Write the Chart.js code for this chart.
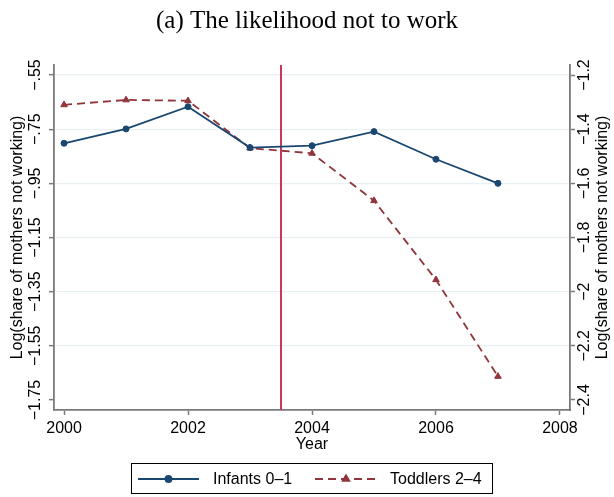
<!DOCTYPE html>
<html>
<head>
<meta charset="utf-8">
<script src="https://cdn.jsdelivr.net/npm/chart.js@4.4.1/dist/chart.umd.min.js"></script>
<style>
  html, body { margin: 0; padding: 0; background: #ffffff; }
  #wrap { width: 614px; height: 497px; }
</style>
</head>
<body>
<div id="wrap"><canvas id="chart" width="614" height="497"></canvas></div>
<script>
// Survey years and log share of mothers not working, by age of youngest child
const years = [2000, 2001, 2002, 2003, 2004, 2005, 2006, 2007];
const infants = [-0.802, -0.749, -0.667, -0.818, -0.811, -0.759, -0.861, -0.950];
const toddlers = [-1.310, -1.292, -1.295, -1.470, -1.489, -1.664, -1.956, -2.313];

// Axis ticks
const xTicks = [2000, 2002, 2004, 2006, 2008];
const leftTicks = [-0.55, -0.75, -0.95, -1.15, -1.35, -1.55, -1.75];
const rightTicks = [-1.2, -1.4, -1.6, -1.8, -2, -2.2, -2.4];

// Reform marker and texts
const reformYear = 2003.5;
const seriesNames = ['Infants 0–1', 'Toddlers 2–4'];
const chartTitle = '(a) The likelihood not to work';
const yTitle = 'Log(share of mothers not working)';
const xTitle = 'Year';

const SANS = '"Liberation Sans", Arial, sans-serif';
const AXIS_GREY = '#7a7a7a';
const GRID = '#e9f0f2';
const BLUE = '#1a476f';
const RED = '#90353b';
const VLINE = '#c8375a';

// Stata-style tick text: -0.55 -> −.55
function fmt(v) {
  let s = String(Math.abs(+v.toFixed(2)));
  s = s.replace(/^0\./, '.');
  return (v < 0 ? '\u2212' : '') + s;
}

const decorations = {
  id: 'decorations',
  beforeDatasetsDraw(chart) {
    const { ctx, chartArea, scales } = chart;
    const x = scales.x.getPixelForValue(reformYear);
    ctx.save();
    ctx.strokeStyle = VLINE;
    ctx.lineWidth = 2;
    ctx.beginPath();
    ctx.moveTo(x, chartArea.top);
    ctx.lineTo(x, chartArea.bottom);
    ctx.stroke();
    ctx.restore();
  },
  afterDraw(chart) {
    const { ctx, scales } = chart;
    ctx.save();

    // Title
    ctx.fillStyle = '#000';
    ctx.font = '25px "Liberation Serif", "Times New Roman", serif';
    ctx.textAlign = 'center';
    ctx.textBaseline = 'alphabetic';
    ctx.fillText(chartTitle, 307, 28);

    // Rotated y tick labels and titles
    function vtext(text, x, y) {
      ctx.save();
      ctx.translate(x, y);
      ctx.rotate(-Math.PI / 2);
      ctx.textAlign = 'center';
      ctx.textBaseline = 'middle';
      ctx.fillText(text, 0, 0);
      ctx.restore();
    }
    ctx.font = '16px ' + SANS;
    ctx.fillStyle = '#000';
    leftTicks.forEach(v => vtext(fmt(v), 36, scales.y.getPixelForValue(v)));
    rightTicks.forEach(v => vtext(fmt(v), 584.5, scales.y2.getPixelForValue(v)));
    const midY = (chart.chartArea.top + chart.chartArea.bottom) / 2;
    vtext(yTitle, 18, midY);
    vtext(yTitle, 603, midY);

    // Legend box
    const bx = 131.5, by = 463.5, bw = 361, bh = 30;
    ctx.strokeStyle = '#000';
    ctx.lineWidth = 1;
    ctx.strokeRect(bx, by, bw, bh);
    const ly = 479;
    const items = [
      { x0: 138, x1: 199, tx: 213 },
      { x0: 315, x1: 377, tx: 390 }
    ];
    chart.data.datasets.forEach((ds, i) => {
      const it = items[i];
      ctx.save();
      ctx.strokeStyle = ds.borderColor;
      ctx.lineWidth = ds.borderWidth;
      ctx.setLineDash(ds.borderDash || []);
      ctx.beginPath();
      ctx.moveTo(it.x0, ly);
      ctx.lineTo(it.x1, ly);
      ctx.stroke();
      ctx.setLineDash([]);
      ctx.fillStyle = ds.pointBackgroundColor;
      ctx.strokeStyle = ds.pointBorderColor;
      Chart.helpers.drawPoint(ctx, {
        pointStyle: ds.pointStyle,
        radius: ds.pointRadius,
        rotation: 0,
        borderWidth: 1
      }, (it.x0 + it.x1) / 2, ly);
      ctx.restore();
      ctx.fillStyle = '#000';
      ctx.font = '16px ' + SANS;
      ctx.textAlign = 'left';
      ctx.textBaseline = 'middle';
      ctx.fillText(ds.label, it.tx, ly + 1);
    });
    ctx.restore();
  }
};

new Chart(document.getElementById('chart'), {
  type: 'line',
  data: {
    datasets: [
      {
        label: seriesNames[0],
        data: years.map((yr, i) => ({ x: yr, y: infants[i] })),
        yAxisID: 'y',
        borderColor: BLUE,
        borderWidth: 1.8,
        pointStyle: 'circle',
        pointRadius: 3,
        pointBackgroundColor: BLUE,
        pointBorderColor: BLUE,
        pointBorderWidth: 1,
        tension: 0
      },
      {
        label: seriesNames[1],
        data: years.map((yr, i) => ({ x: yr, y: toddlers[i] })),
        yAxisID: 'y2',
        borderColor: RED,
        borderWidth: 1.8,
        borderDash: [8, 5],
        pointStyle: 'triangle',
        pointRadius: 3.8,
        pointBackgroundColor: RED,
        pointBorderColor: RED,
        pointBorderWidth: 1,
        tension: 0
      }
    ]
  },
  options: {
    responsive: false,
    devicePixelRatio: 1,
    animation: false,
    layout: { padding: { top: 65, left: 0, right: 0, bottom: 43.2 } },
    plugins: { legend: { display: false }, tooltip: { enabled: false } },
    scales: {
      x: {
        type: 'linear',
        min: 1999.838,
        max: 2008.162,
        afterBuildTicks: s => { s.ticks = xTicks.map(v => ({ value: v })); },
        afterFit: s => { s.height = 43.8; },
        ticks: {
          font: { family: SANS, size: 16 },
          color: '#000',
          padding: 4,
          maxRotation: 0,
          callback: v => String(v)
        },
        grid: { drawOnChartArea: false, tickLength: 5, tickColor: AXIS_GREY, tickWidth: 1.5 },
        border: { color: AXIS_GREY, width: 1.8 },
        title: {
          display: true,
          text: xTitle,
          font: { family: SANS, size: 16 },
          color: '#000',
          padding: { top: 0, bottom: 0 }
        }
      },
      y: {
        type: 'linear',
        position: 'left',
        min: -1.787,
        max: -0.513,
        afterBuildTicks: s => { s.ticks = leftTicks.map(v => ({ value: v })); },
        afterFit: s => { s.width = 54; },
        ticks: { display: false },
        grid: {
          color: c => (c.tick && Math.abs(c.tick.value - leftTicks[leftTicks.length - 1]) < 1e-9) ? 'rgba(0,0,0,0)' : GRID,
          lineWidth: 1.3,
          tickLength: 5,
          tickColor: AXIS_GREY,
          tickWidth: 1.5
        },
        border: { color: AXIS_GREY, width: 1.8 }
      },
      y2: {
        type: 'linear',
        position: 'right',
        min: -2.437,
        max: -1.163,
        afterBuildTicks: s => { s.ticks = rightTicks.map(v => ({ value: v })); },
        afterFit: s => { s.width = 44; },
        ticks: { display: false },
        grid: { drawOnChartArea: false, tickLength: 5, tickColor: AXIS_GREY, tickWidth: 1.5 },
        border: { color: AXIS_GREY, width: 1.8 }
      }
    }
  },
  plugins: [decorations]
});
</script>
</body>
</html>
